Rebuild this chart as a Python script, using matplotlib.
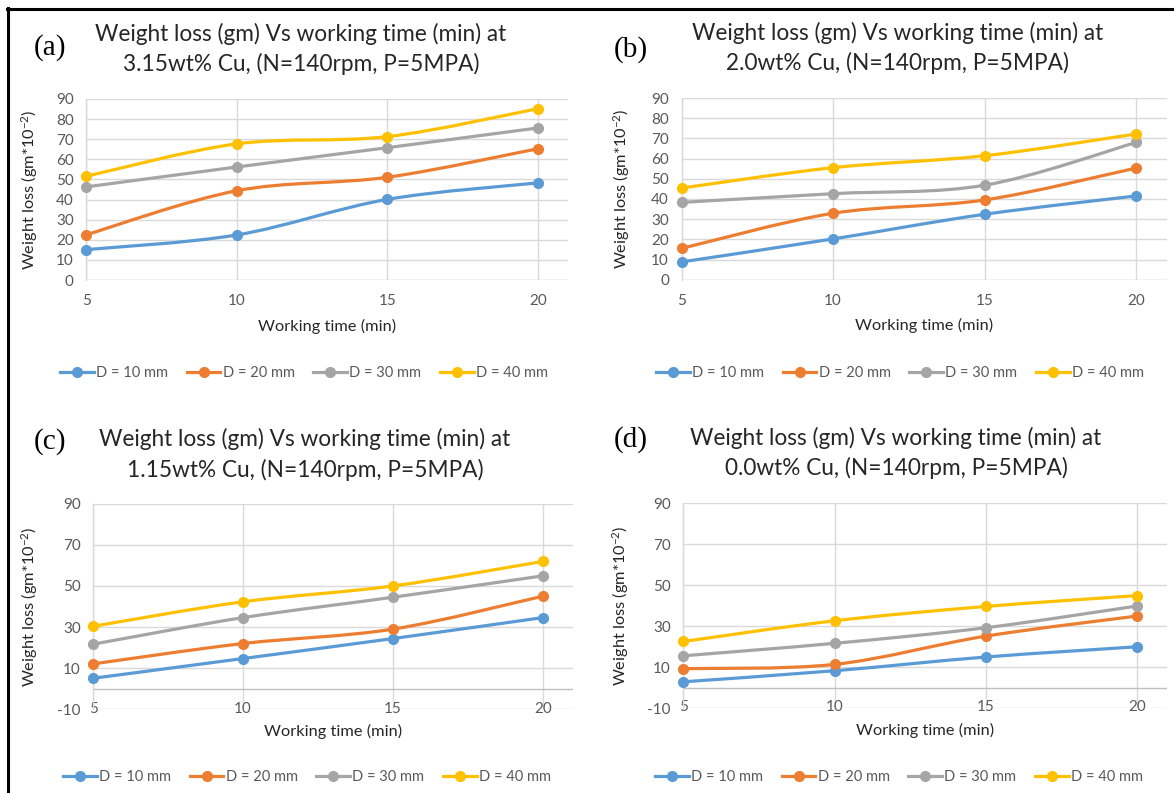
import matplotlib
matplotlib.use("Agg")
import matplotlib.pyplot as plt
from matplotlib.path import Path
from matplotlib.patches import PathPatch
from matplotlib.lines import Line2D
import numpy as np

plt.rcParams['font.family'] = ['Lato', 'DejaVu Sans']
plt.rcParams['mathtext.fontset'] = 'custom'
plt.rcParams['mathtext.rm'] = 'Lato'
plt.rcParams['mathtext.it'] = 'Lato:italic'
plt.rcParams['axes.unicode_minus'] = False

# ---------------- data ----------------
working_time = [5, 10, 15, 20]
series_labels = ["D = 10 mm", "D = 20 mm", "D = 30 mm", "D = 40 mm"]
series_colors = ["#5B9BD5", "#ED7D31", "#A5A5A5", "#FFC000"]

cu_315_d10 = [15.1, 22.4, 40.1, 48.3]
cu_315_d20 = [22.5, 44.4, 51.1, 65.3]
cu_315_d30 = [46.3, 56.2, 65.8, 75.6]
cu_315_d40 = [51.6, 67.7, 71.3, 85.2]

cu_20_d10 = [8.8, 20.2, 32.4, 41.5]
cu_20_d20 = [15.5, 32.9, 39.5, 55.3]
cu_20_d30 = [38.3, 42.6, 46.8, 68.0]
cu_20_d40 = [45.4, 55.5, 61.4, 72.2]

cu_115_d10 = [5.1, 14.7, 24.4, 34.6]
cu_115_d20 = [12.1, 22.0, 29.0, 45.0]
cu_115_d30 = [21.7, 34.6, 44.5, 54.9]
cu_115_d40 = [30.4, 42.3, 50.0, 61.9]

cu_00_d10 = [2.8, 8.2, 14.9, 19.9]
cu_00_d20 = [9.2, 11.3, 25.1, 34.9]
cu_00_d30 = [15.5, 21.6, 29.2, 39.8]
cu_00_d40 = [22.5, 32.6, 39.6, 44.9]

titles = [
    "Weight loss (gm) Vs working time (min) at\n3.15wt% Cu, (N=140rpm, P=5MPA)",
    "Weight loss (gm) Vs working time (min) at\n2.0wt% Cu, (N=140rpm, P=5MPA)",
    "Weight loss (gm) Vs working time (min) at\n1.15wt% Cu, (N=140rpm, P=5MPA)",
    "Weight loss (gm) Vs working time (min) at\n0.0wt% Cu, (N=140rpm, P=5MPA)",
]
panel_tags = ["(a)", "(b)", "(c)", "(d)"]
y_ticks_top = [0, 10, 20, 30, 40, 50, 60, 70, 80, 90]
y_ticks_bottom = [-10, 10, 30, 50, 70, 90]
x_label = "Working time (min)"
y_label = r"Weight loss (gm*10$^{\mathrm{-2}}$)"

panels = [
    [cu_315_d10, cu_315_d20, cu_315_d30, cu_315_d40],
    [cu_20_d10, cu_20_d20, cu_20_d30, cu_20_d40],
    [cu_115_d10, cu_115_d20, cu_115_d30, cu_115_d40],
    [cu_00_d10, cu_00_d20, cu_00_d30, cu_00_d40],
]

# ---------------- layout (pixels) ----------------
W, H = 1174, 793
fig = plt.figure(figsize=(W / 100, H / 100), dpi=100)
fig.patch.set_facecolor("white")

def fx(p):
    return p / W

def fy(p):
    return 1 - p / H

# left, right, top, bottom of plot areas
boxes = [
    (86.2, 568.2, 99.0, 280.0),
    (681.5, 1166.5, 98.0, 279.7),
    (93.3, 572.7, 503.7, 709.3),
    (683.4, 1167.0, 503.3, 708.0),
]
title_pos = [(301, 34, 64), (898, 33, 63), (305, 439, 470), (896, 438, 468)]
tag_pos = [(50, 48), (631, 50), (50, 442), (631, 440)]
ylabel_x = [30, 622, 30, 621]
xlabel_y = [326, 325, 731, 730]
legend_pos = [(304, 373), (900, 373), (307, 777), (899, 777)]

GRID = "#D9D9D9"
TXT = "#595959"


def smooth_path(xs, ys):
    xs = np.asarray(xs, float)
    ys = np.asarray(ys, float)
    pts = np.column_stack([xs, ys])
    n = len(pts)
    verts = [pts[0]]
    codes = [Path.MOVETO]
    for i in range(n - 1):
        p_prev = pts[i - 1] if i > 0 else pts[i]
        p0 = pts[i]
        p1 = pts[i + 1]
        p_next = pts[i + 2] if i + 2 < n else pts[i + 1]
        c1 = p0 + (p1 - p_prev) / 6.0
        c2 = p1 - (p_next - p0) / 6.0
        verts += [c1, c2, p1]
        codes += [Path.CURVE4] * 3
    return Path(verts, codes)


for k in range(4):
    l, r, t, b = boxes[k]
    ax = fig.add_axes([fx(l), fy(b), (r - l) / W, (b - t) / H])
    bottom_style = k >= 2
    ax.set_xlim(5, 21)
    ax.set_xticks(working_time)
    if bottom_style:
        ax.set_ylim(-10, 90)
        ax.set_yticks(y_ticks_bottom)
    else:
        ax.set_ylim(0, 90)
        ax.set_yticks(y_ticks_top)
    ax.grid(True, color=GRID, lw=1.0)
    ax.set_axisbelow(True)
    for s in ["top", "right", "bottom"]:
        ax.spines[s].set_visible(False)
    ax.spines["left"].set_color(GRID)
    ax.spines["left"].set_linewidth(1.0)
    ax.axhline(0, color="#BFBFBF" if bottom_style else GRID, lw=1.0, zorder=1)
    ax.tick_params(length=0, labelsize=11, labelcolor=TXT)
    ax.tick_params(axis="y", pad=9)
    ax.tick_params(axis="x", pad=-5.5 if bottom_style else 10)

    for vals, col in zip(panels[k], series_colors):
        patch = PathPatch(smooth_path(working_time, vals), fill=False,
                          edgecolor=col, lw=2.3, zorder=3, capstyle="round",
                          joinstyle="round")
        ax.add_patch(patch)
        ax.plot(working_time, vals, linestyle="none", marker="o",
                markersize=7, color=col, zorder=4, clip_on=False)

    cx = title_pos[k][0]
    fig.text(fx(cx), fy(title_pos[k][1]), titles[k].split("\n")[0],
             ha="center", va="center", fontsize=16.3, color="#262626")
    fig.text(fx(cx), fy(title_pos[k][2]), titles[k].split("\n")[1],
             ha="center", va="center", fontsize=16.3, color="#262626")
    fig.text(fx(tag_pos[k][0]), fy(tag_pos[k][1]), panel_tags[k],
             ha="center", va="center", fontsize=21, family="Liberation Serif",
             color="black")
    fig.text(fx(ylabel_x[k]), fy((t + b) / 2), y_label, rotation=90,
             ha="center", va="center", fontsize=11.8, color="#262626")
    fig.text(fx((l + r) / 2), fy(xlabel_y[k]), x_label,
             ha="center", va="center", fontsize=11.8, color="#262626")

    handles = [Line2D([], [], color=c, lw=2.3, marker="o", markersize=7)
               for c in series_colors]
    fig.legend(handles, series_labels, loc="center", ncol=4, frameon=False,
               bbox_to_anchor=(fx(legend_pos[k][0]), fy(legend_pos[k][1])),
               fontsize=10.5, handlelength=2.3, handletextpad=0.15,
               columnspacing=1.3, labelcolor=TXT, borderaxespad=0,
               borderpad=0)

# outer frame (left and top)
fig.add_artist(Line2D([fx(8), fx(8)], [fy(8), fy(H + 2)], color="black",
                      lw=2.2, transform=fig.transFigure))
fig.add_artist(Line2D([fx(7), fx(W + 2)], [fy(9), fy(9)], color="black",
                      lw=2.2, transform=fig.transFigure))

fig.savefig("out.png", dpi=100, facecolor="white")
